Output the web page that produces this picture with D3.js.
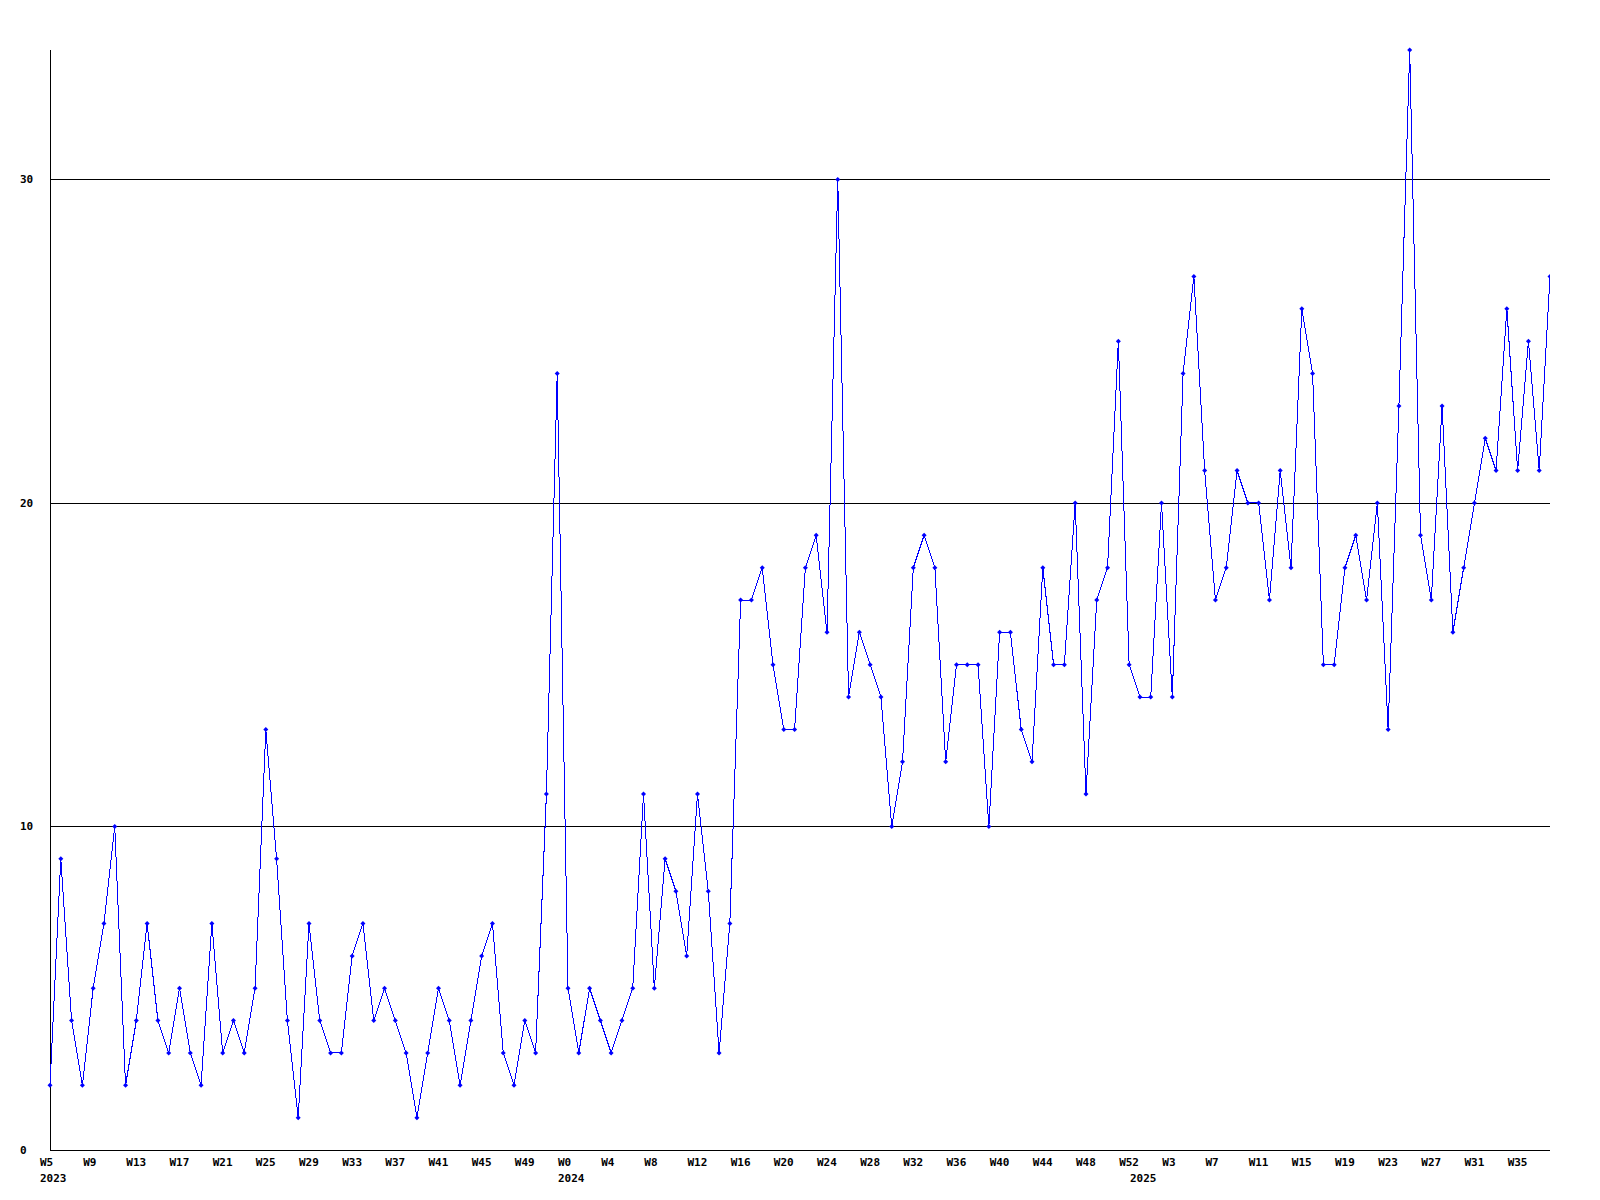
<!DOCTYPE html>
<html>
<head>
<meta charset="utf-8">
<title>Weekly counts</title>
<script src="https://cdn.jsdelivr.net/npm/d3@7"></script>
<style>
	body { margin: 0; background: #fff; }
	text { font-family: "DejaVu Sans Mono", "Liberation Mono", monospace; font-weight: bold; font-size: 11px; fill: #000; }
</style>
</head>
<body>
<div id="chart"></div>
<script>
// Years covered and first/last week number of each one
var years = [2023, 2024, 2025];
var firstWeek = [5, 0, 0];
var lastWeek = [52, 52, 38];

// Weekly values
var counts2023 = [2, 9, 4, 2, 5, 7, 10, 2, 4, 7, 4, 3, 5, 3, 2, 7, 3, 4, 3, 5,
	13, 9, 4, 1, 7, 4, 3, 3, 6, 7, 4, 5, 4, 3, 1, 3, 5, 4, 2, 4,
	6, 7, 3, 2, 4, 3, 11, 24];
var counts2024 = [5, 3, 5, 4, 3, 4, 5, 11, 5, 9, 8, 6, 11, 8, 3, 7, 17, 17, 18, 15,
	13, 13, 18, 19, 16, 30, 14, 16, 15, 14, 10, 12, 18, 19, 18, 12, 15, 15, 15, 10,
	16, 16, 13, 12, 18, 15, 15, 20, 11, 17, 18, 25, 15];
var counts2025 = [14, 14, 20, 14, 24, 27, 21, 17, 18, 21, 20, 20, 17, 21, 18, 26, 24, 15, 15, 18,
	19, 17, 20, 13, 23, 34, 19, 17, 23, 16, 18, 20, 22, 21, 26, 21, 25, 21, 27];

var yTicks = [0, 10, 20, 30];
var yMax = 34;
var labelEvery = 4; // a week label on every 4th point

var W = 1600, H = 1200;
//plot box (don't call these top/left, window.top is read-only)
var plotLeft = 50, plotRight = 1550, plotTop = 50, plotBottom = 1150;

//Build one row per week
var allCounts = [counts2023, counts2024, counts2025];
var data = [];
years.forEach(function (year, i) {
	d3.range(firstWeek[i], lastWeek[i] + 1).forEach(function (w, j) {
		data.push({ key: year + '-W' + w, year: year, week: w, first: j === 0, value: allCounts[i][j] });
	});
});

var x = d3.scalePoint().domain(data.map(function (d) { return d.key; })).range([plotLeft, plotRight]);
var y = d3.scaleLinear().domain([0, yMax]).range([plotBottom, plotTop]);

var svg = d3.select('#chart').append('svg')
	.attr('width', W)
	.attr('height', H);

svg.append('rect').attr('width', W).attr('height', H).attr('fill', '#fff');

// horizontal grid lines (skip 0, that one is the axis)
svg.append('g').selectAll('line')
	.data(yTicks.filter(function (t) { return t > 0; }))
	.join('line')
	.attr('x1', plotLeft).attr('x2', plotRight)
	.attr('y1', function (d) { return Math.round(y(d)) + 0.5; })
	.attr('y2', function (d) { return Math.round(y(d)) + 0.5; })
	.attr('stroke', '#000')
	.attr('shape-rendering', 'crispEdges');

// axes
svg.append('line')
	.attr('x1', plotLeft + 0.5).attr('x2', plotLeft + 0.5)
	.attr('y1', plotTop).attr('y2', plotBottom + 0.5)
	.attr('stroke', '#000').attr('shape-rendering', 'crispEdges');
svg.append('line')
	.attr('x1', plotLeft).attr('x2', plotRight)
	.attr('y1', plotBottom + 0.5).attr('y2', plotBottom + 0.5)
	.attr('stroke', '#000').attr('shape-rendering', 'crispEdges');

// y labels
svg.append('g').selectAll('text')
	.data(yTicks)
	.join('text')
	.attr('x', 20)
	.attr('y', function (d) { return y(d); })
	.attr('dy', '0.35em')
	.text(function (d) { return d; });

// week labels and year labels under the axis
svg.append('g').selectAll('text')
	.data(data.filter(function (d, i) { return i % labelEvery === 0; }))
	.join('text')
	.attr('x', function (d) { return x(d.key) - 10; })
	.attr('y', 1162)
	.attr('dy', '0.35em')
	.text(function (d) { return 'W' + d.week; });

svg.append('g').selectAll('text')
	.data(data.filter(function (d) { return d.first; }))
	.join('text')
	.attr('x', function (d) { return x(d.key) - 10; })
	.attr('y', 1178)
	.attr('dy', '0.35em')
	.text(function (d) { return d.year; });

// clip so the last marker is cut at the plot edge
svg.append('clipPath').attr('id', 'plot')
	.append('rect').attr('x', plotLeft - 3).attr('y', plotTop - 3)
	.attr('width', plotRight - plotLeft + 3).attr('height', plotBottom - plotTop + 3);

var plot = svg.append('g').attr('clip-path', 'url(#plot)');

var line = d3.line()
	.x(function (d) { return x(d.key); })
	.y(function (d) { return y(d.value); });

plot.append('path')
	.datum(data)
	.attr('d', line)
	.attr('fill', 'none')
	.attr('stroke', '#0000ff')
	.attr('stroke-width', 1)
	.attr('shape-rendering', 'crispEdges');

// small diamond markers
plot.append('g').selectAll('path')
	.data(data)
	.join('path')
	.attr('d', function (d) {
		var cx = x(d.key), cy = y(d.value), r = 2.5;
		return 'M' + (cx - r) + ',' + cy + 'L' + cx + ',' + (cy - r) + 'L' + (cx + r) + ',' + cy + 'L' + cx + ',' + (cy + r) + 'Z';
	})
	.attr('fill', '#0000ff');
</script>
</body>
</html>
